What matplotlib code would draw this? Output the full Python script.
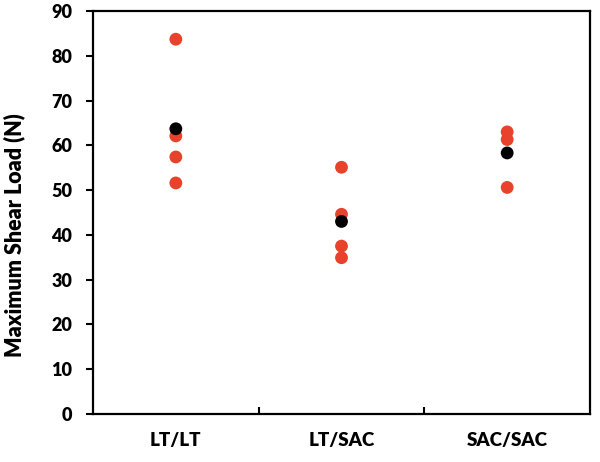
import numpy as np
import matplotlib.pyplot as plt

plt.rcParams['font.family'] = ['Lato', 'DejaVu Sans']
plt.rcParams['font.weight'] = 'heavy'

# dados
grupos = ['LT/LT', 'LT/SAC', 'SAC/SAC']
amostras = [
    [83.7, 62.1, 57.4, 51.6],
    [55.1, 44.6, 37.5, 34.9],
    [63.0, 61.3, 50.6],
]
medias = [63.7, 43.0, 58.3]

vermelho = '#E8412C'

fig = plt.figure(figsize=(6.0, 4.62), dpi=100)
ax = fig.add_axes([93/600, 1 - 414/462, (590-93)/600, (414-11)/462])

for i in range(len(grupos)):
    x = np.full(len(amostras[i]), i + 1)
    ax.scatter(x, amostras[i], s=85, color=vermelho, edgecolors='none', zorder=2)
ax.scatter(np.arange(1, len(grupos) + 1), medias, s=85, color='black', edgecolors='none', zorder=3)

ax.set_xlim(0.5, 3.5)
ax.set_ylim(0, 90)
ax.set_yticks(np.arange(0, 91, 10))
ax.set_xticks([1.5, 2.5])
ax.set_xticklabels([])
ax.set_xticks([1, 2, 3], minor=True)
ax.set_xticklabels(grupos, minor=True)
ax.tick_params(axis='x', which='minor', length=0, pad=13, labelsize=13.5)
ax.tick_params(axis='x', which='major', direction='in', length=5, width=1.5)
ax.tick_params(axis='y', direction='out', length=5, width=1.5, labelsize=13, pad=10)
for s in ax.spines.values():
    s.set_linewidth(1.6)

ax.set_ylabel('Maximum Shear Load (N)', fontsize=15.5, fontweight='heavy')
ax.yaxis.set_label_coords(-68/497, (414-235)/403)

plt.savefig('out.png', dpi=100)
